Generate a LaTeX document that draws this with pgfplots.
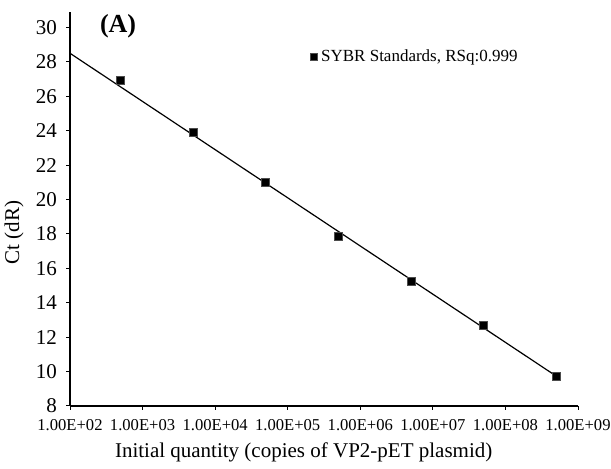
\documentclass[border=0pt]{standalone}
\usepackage{pgfplots}
\pgfplotsset{compat=1.18}
\usepackage{fontspec}
\setmainfont{Liberation Serif}
\begin{document}
\begin{tikzpicture}
\useasboundingbox (-35pt,-31.5pt) rectangle (270.5pt,203pt);
\begin{axis}[
  at={(0,0)}, anchor=south west,
  scale only axis, width=254pt, height=197pt,
  xmode=log, xmin=1e2, xmax=1e9,
  ymin=8, ymax=30.9,
  axis x line*=bottom, axis y line*=left,
  axis line style={line width=0.8pt},
  tick align=outside, tick style={black, line width=0.5pt},
  major tick length=2pt,
  xtick={1e2,1e3,1e4,1e5,1e6,1e7,1e8,1e9},
  xticklabels={1.00E+02,1.00E+03,1.00E+04,1.00E+05,1.00E+06,1.00E+07,1.00E+08,1.00E+09},
  minor x tick num=0, minor xtick={},
  xminorticks=false,
  ytick={8,10,...,30},
  /pgf/number format/assume math mode=true,
  xticklabel style={font=\fontsize{8.3}{9}\selectfont, yshift=-1pt},
  yticklabel style={font=\fontsize{10.5}{12}\selectfont, xshift=-1pt},
  legend style={at={(axis cs:2.0e5,28.3)}, anchor=west, draw=none, fill=none, inner sep=0pt, font=\fontsize{8.5}{10}\selectfont},
  legend image code/.code={\draw[black,fill=black] plot[mark=square*, mark size=1.8pt] coordinates {(0.15cm,0cm)};},
  legend cell align=left,
  clip=false,
]
\addplot[only marks, mark=square*, mark size=2pt, black, mark options={fill=black, draw=gray!60!black}] coordinates {
  (5e2,26.9) (5e3,23.89) (5e4,21.0) (5e5,17.87) (5e6,15.25) (5e7,12.68) (5e8,9.74)
};
\addlegendentry{SYBR Standards, RSq:0.999}
\addplot[black, line width=0.6pt, forget plot] coordinates {(1e2,28.5) (5e8,9.74)};
\node[font=\fontsize{13}{15}\selectfont\bfseries] at (axis cs:4.6e2,30.05) {(A)};
\node[rotate=90, font=\fontsize{10.5}{12}\selectfont] at (axis description cs:-0.11,0.44) {Ct (dR)};
\node[font=\fontsize{10.5}{12}\selectfont] at (axis description cs:0.46,-0.117) {Initial quantity (copies of VP2-pET plasmid)};
\end{axis}
\end{tikzpicture}
\end{document}
